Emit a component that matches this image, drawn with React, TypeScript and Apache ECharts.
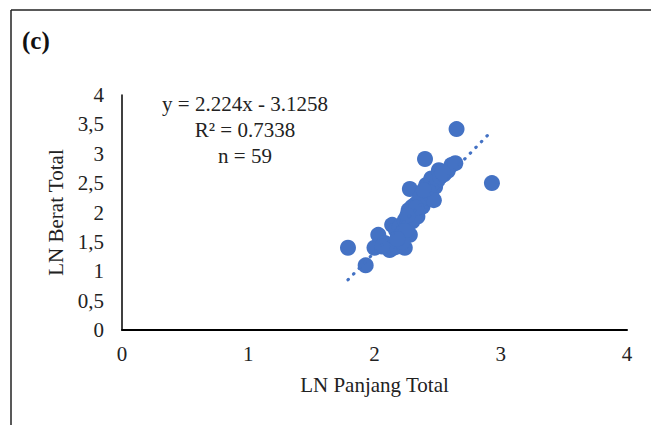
import React, { useEffect, useRef } from "react";
import * as echarts from "echarts";

const lnPanjang: number[] = [
  1.79, 1.93, 2.0, 2.03, 2.08, 2.12, 2.15, 2.18, 2.2, 2.24,
  2.28, 2.14, 2.17, 2.2, 2.22, 2.24, 2.26, 2.27, 2.28, 2.3,
  2.32, 2.34, 2.28, 2.3, 2.33, 2.36, 2.35, 2.38, 2.38, 2.4,
  2.41, 2.4, 2.42, 2.44, 2.45, 2.46, 2.48, 2.5, 2.51, 2.52,
  2.55, 2.58, 2.61, 2.64, 2.65, 2.93, 2.1, 2.22, 2.25, 2.31,
  2.36, 2.43, 2.47, 2.18, 2.06, 2.33, 2.26, 2.39, 2.54,
];
const lnBerat: number[] = [
  1.4, 1.1, 1.4, 1.62, 1.48, 1.36, 1.4, 1.42, 1.59, 1.4,
  1.62, 1.79, 1.7, 1.75, 1.65, 1.87, 1.8, 2.04, 1.95, 1.85,
  2.0, 1.93, 2.4, 2.1, 2.15, 2.18, 2.05, 2.33, 2.1, 2.2,
  2.47, 2.91, 2.3, 2.24, 2.58, 2.4, 2.44, 2.55, 2.72, 2.61,
  2.65, 2.71, 2.81, 2.84, 3.42, 2.5, 1.45, 1.5, 1.7, 1.9,
  2.25, 2.35, 2.21, 1.55, 1.42, 2.08, 1.95, 2.38, 2.68,
];
const slope = 2.224;
const intercept = -3.1258;
const equationLines: string[] = ["y = 2.224x - 3.1258", "R² = 0.7338", "n = 59"];
const xTicks: number[] = [0, 1, 2, 3, 4];
const yTicks: number[] = [0, 0.5, 1, 1.5, 2, 2.5, 3, 3.5, 4];

const FONT = "Liberation Serif";
const BLUE = "#4472C4";

export default function App() {
  const ref = useRef<HTMLDivElement>(null);
  useEffect(() => {
    if (!ref.current) return;
    const chart = echarts.init(ref.current, null, { renderer: "svg" });
    const points = lnPanjang.map((x, i) => [x, lnBerat[i]]);
    const xMin = Math.min(...lnPanjang);
    const xMax = Math.max(...lnPanjang);
    const trend = [
      [xMin, slope * xMin + intercept],
      [xMax, slope * xMax + intercept],
    ];
    chart.setOption({
      animation: false,
      backgroundColor: "#ffffff",
      grid: { left: 122, right: 24, top: 95, bottom: 95 },
      xAxis: {
        type: "value",
        min: xTicks[0],
        max: xTicks[xTicks.length - 1],
        interval: 1,
        name: "LN Panjang Total",
        nameLocation: "middle",
        nameGap: 44,
        nameTextStyle: { fontFamily: FONT, fontSize: 21, color: "#222" },
        axisLine: { show: true, lineStyle: { color: "#000", width: 2 } },
        axisTick: { show: false },
        splitLine: { show: false },
        axisLabel: { fontFamily: FONT, fontSize: 21, color: "#222", margin: 13 },
      },
      yAxis: {
        type: "value",
        min: yTicks[0],
        max: yTicks[yTicks.length - 1],
        interval: 0.5,
        name: "LN Berat Total",
        nameLocation: "middle",
        nameGap: 50,
        nameRotate: 90,
        nameTextStyle: { fontFamily: FONT, fontSize: 21, color: "#222" },
        axisLine: { show: true, lineStyle: { color: "#000", width: 1.5 } },
        axisTick: { show: false },
        splitLine: { show: false },
        axisLabel: {
          fontFamily: FONT,
          fontSize: 21,
          color: "#222",
          margin: 18,
          formatter: (v: number) => String(v).replace(".", ","),
        },
      },
      series: [
        {
          type: "scatter",
          data: points,
          symbolSize: 16,
          itemStyle: { color: BLUE, opacity: 1 },
          z: 2,
        },
        {
          type: "line",
          data: trend,
          showSymbol: false,
          symbol: "none",
          lineStyle: { color: BLUE, width: 3.2, type: [0.5, 7.5], cap: "round" },
          z: 3,
        },
      ],
      graphic: [
        {
          type: "line",
          shape: { x1: 11, y1: 10, x2: 11, y2: 425 },
          style: { stroke: "#222", lineWidth: 1.5 },
        },
        {
          type: "line",
          shape: { x1: 11, y1: 10, x2: 651, y2: 10 },
          style: { stroke: "#222", lineWidth: 1.5 },
        },
        {
          type: "text",
          left: 22,
          top: 28,
          style: { text: "(c)", fontFamily: FONT, fontSize: 25, fontWeight: "bold", fill: "#111" },
        },
        ...equationLines.map((t, i) => ({
          type: "text",
          x: 245,
          y: 104 + i * 26,
          style: {
            text: t,
            fontFamily: FONT,
            fontSize: 21,
            fill: "#222",
            textAlign: "center",
            textVerticalAlign: "middle",
          },
        })),
      ],
    });
    return () => chart.dispose();
  }, []);
  return <div ref={ref} style={{ width: 651, height: 425, position: "absolute", left: 0, top: 0 }} />;
}
